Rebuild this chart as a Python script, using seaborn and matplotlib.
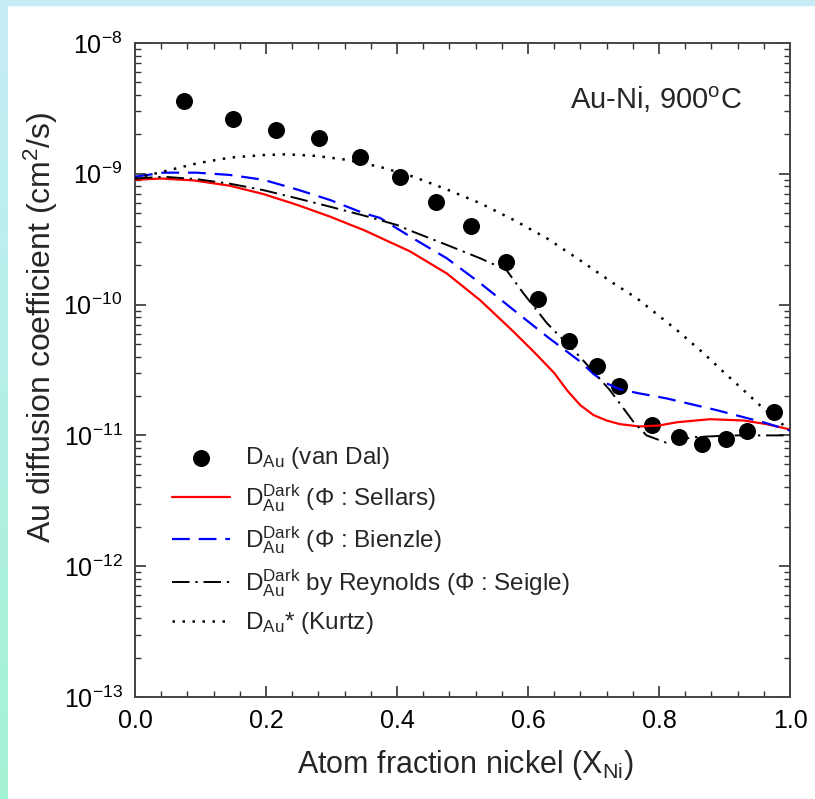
import numpy as np
import pandas as pd
import matplotlib
matplotlib.use('Agg')
import matplotlib.pyplot as plt
import seaborn as sns
from matplotlib.ticker import LogLocator, MultipleLocator, NullFormatter

# measured Au diffusivity (van Dal)
dal_x = [0.075, 0.149, 0.216, 0.281, 0.344, 0.404, 0.460, 0.513, 0.566, 0.615,
         0.662, 0.705, 0.739, 0.790, 0.831, 0.866, 0.902, 0.935, 0.975]
dal_y = [3.62e-9, 2.61e-9, 2.16e-9, 1.87e-9, 1.35e-9, 9.5e-10, 6.1e-10, 4.0e-10,
         2.1e-10, 1.1e-10, 5.3e-11, 3.4e-11, 2.4e-11, 1.2e-11, 9.7e-12, 8.6e-12,
         9.4e-12, 1.09e-11, 1.5e-11]

# Darken, Phi from Sellars
sel_x = [0.0, 0.04, 0.09, 0.145, 0.196, 0.247, 0.298, 0.35, 0.42, 0.476, 0.527,
         0.578, 0.61, 0.64, 0.66, 0.68, 0.70, 0.72, 0.74, 0.77, 0.80, 0.827, 0.878,
         0.929, 0.964, 1.0]
sel_y = [9.0e-10, 9.2e-10, 8.9e-10, 8.1e-10, 7.0e-10, 5.8e-10, 4.7e-10, 3.7e-10,
         2.55e-10, 1.73e-10, 1.08e-10, 6.2e-11, 4.3e-11, 3.0e-11, 2.2e-11, 1.7e-11,
         1.43e-11, 1.3e-11, 1.22e-11, 1.17e-11, 1.19e-11, 1.26e-11, 1.33e-11,
         1.30e-11, 1.22e-11, 1.11e-11]

# Darken, Phi from Bienzle
bie_x = [0.0, 0.043, 0.094, 0.145, 0.196, 0.247, 0.298, 0.349, 0.374, 0.425,
         0.476, 0.527, 0.578, 0.629, 0.68, 0.70, 0.72, 0.74, 0.771, 0.811, 0.888,
         0.964, 1.0]
bie_y = [9.5e-10, 1.02e-9, 1.02e-9, 9.8e-10, 9.0e-10, 7.6e-10, 6.3e-10, 5.0e-10,
         4.6e-10, 3.2e-10, 2.26e-10, 1.46e-10, 9.1e-11, 5.7e-11, 3.66e-11, 2.95e-11,
         2.5e-11, 2.25e-11, 2.09e-11, 1.92e-11, 1.56e-11, 1.24e-11, 1.09e-11]

# Reynolds, Phi from Seigle
rey_x = [0.0, 0.043, 0.094, 0.145, 0.196, 0.247, 0.298, 0.349, 0.4, 0.425, 0.476,
         0.527, 0.567, 0.593, 0.629, 0.679, 0.725, 0.761, 0.781, 0.811, 0.852, 0.913, 1.0]
rey_y = [9.2e-10, 9.5e-10, 9.1e-10, 8.4e-10, 7.5e-10, 6.5e-10, 5.6e-10, 4.8e-10,
         4.06e-10, 3.6e-10, 2.86e-10, 2.26e-10, 1.84e-10, 1.22e-10, 7.2e-11,
         4.0e-11, 2.22e-11, 1.27e-11, 1.0e-11, 8.8e-12, 9.7e-12, 1.0e-11, 1.0e-11]

# tracer diffusivity (Kurtz)
kur_x = [0.0, 0.043, 0.094, 0.145, 0.196, 0.232, 0.277, 0.323, 0.374, 0.425, 0.476,
         0.527, 0.578, 0.629, 0.679, 0.73, 0.766, 0.827, 0.868, 0.898, 0.929, 0.959, 0.98, 1.0]
kur_y = [9.2e-10, 1.04e-9, 1.2e-9, 1.33e-9, 1.39e-9, 1.41e-9, 1.37e-9, 1.28e-9,
         1.13e-9, 9.5e-10, 7.6e-10, 5.96e-10, 4.44e-10, 3.21e-10, 2.19e-10, 1.46e-10,
         1.12e-10, 6.4e-11, 4.25e-11, 3.07e-11, 2.22e-11, 1.61e-11, 1.31e-11, 1.1e-11]

y_ticks = [1e-13, 1e-12, 1e-11, 1e-10, 1e-9, 1e-8]

sns.set_style('ticks')
plt.rcParams['font.family'] = ['Liberation Sans', 'DejaVu Sans']
plt.rcParams['mathtext.fontset'] = 'custom'
plt.rcParams['mathtext.rm'] = 'Liberation Sans'
plt.rcParams['mathtext.it'] = 'Liberation Sans:italic'
plt.rcParams['mathtext.bf'] = 'Liberation Sans:bold'

fig = plt.figure(figsize=(8.15, 7.99), dpi=100)

# light border strips of the slide
bg = fig.add_axes([0, 0, 7 / 815, 1], zorder=-5)
grad = np.linspace(0, 1, 200)[:, None, None]
top_c = np.array([198, 236, 248]) / 255
bot_c = np.array([163, 243, 212]) / 255
bg.imshow(top_c * (1 - grad) + bot_c * grad, aspect='auto', extent=(0, 1, 0, 1))
bg.axis('off')
fig.patches.append(plt.Rectangle((0, 1 - 5 / 799), 1, 5 / 799, transform=fig.transFigure,
                                 color=top_c, zorder=-5))

ax = fig.add_axes([135 / 815, 1 - 697 / 799, 655 / 815, 654 / 799])

sns.scatterplot(x=dal_x, y=dal_y, ax=ax, s=150, color='black', edgecolor='black',
                linewidth=0, zorder=2, label=r'$\mathregular{D_{Au}}$ (van Dal)')
sns.lineplot(x=sel_x, y=sel_y, ax=ax, sort=False, color='#ff0000', lw=1.6, zorder=3,
             label=r'$\mathregular{D_{Au}^{Dark}}$ (Φ : Sellars)')
sns.lineplot(x=bie_x, y=bie_y, ax=ax, sort=False, color='#0000ff', lw=1.6, zorder=3,
             ls=(0, (8, 4)), label=r'$\mathregular{D_{Au}^{Dark}}$ (Φ : Bienzle)')
sns.lineplot(x=rey_x, y=rey_y, ax=ax, sort=False, color='black', lw=1.4, zorder=3,
             ls=(0, (9, 3, 1.2, 3)), label=r'$\mathregular{D_{Au}^{Dark}}$ by Reynolds (Φ : Seigle)')
sns.lineplot(x=kur_x, y=kur_y, ax=ax, sort=False, color='black', lw=1.8, zorder=3,
             ls=(0, (1, 3)), label=r'$\mathregular{D_{Au}}$* (Kurtz)')

ax.set_yscale('log')
ax.set_xlim(0, 1)
ax.set_ylim(1e-13, 1e-8)
ax.xaxis.set_major_locator(MultipleLocator(0.2))
ax.xaxis.set_minor_locator(MultipleLocator(0.04))
ax.xaxis.set_major_formatter(plt.FuncFormatter(lambda v, p: f'{v:.1f}'))
ax.set_yticks(y_ticks)
ax.yaxis.set_minor_locator(LogLocator(base=10, subs=np.arange(2, 10), numticks=10))
ax.yaxis.set_minor_formatter(NullFormatter())

ax.tick_params(which='both', direction='in', top=True, right=True, colors='#333333',
               labelcolor='black', labelsize=18, pad=9)
ax.tick_params(which='major', length=8, width=1.2)
ax.tick_params(which='minor', length=4.5, width=1.0)
for sp in ax.spines.values():
    sp.set_color('#444444')
    sp.set_linewidth(1.4)

ax.set_xlabel(r'Atom fraction nickel (X$\mathregular{_{Ni}}$)', fontsize=22)
ax.set_ylabel(r'Au diffusion coefficient (cm$\mathregular{^2}$/s)', fontsize=23)
ax.xaxis.set_label_coords(0.504, -0.104)
ax.yaxis.set_label_coords(-0.1435, 0.565)
ax.xaxis.label.set_va('center')
ax.yaxis.label.set_va('center')

ax.text(0.664, 0.913, r'Au-Ni, 900$\mathregular{^o}$C', transform=ax.transAxes,
        fontsize=21, ha='left', va='center')

handles, labels = ax.get_legend_handles_labels()
ax.legend(handles, labels, loc='upper left', bbox_to_anchor=(0.056, 0.385), frameon=False,
          fontsize=17.5, borderpad=0, borderaxespad=0, handlelength=2.4, handletextpad=0.6,
          labelspacing=0.45, markerscale=1.0)

fig.savefig('out.png', dpi=100)
